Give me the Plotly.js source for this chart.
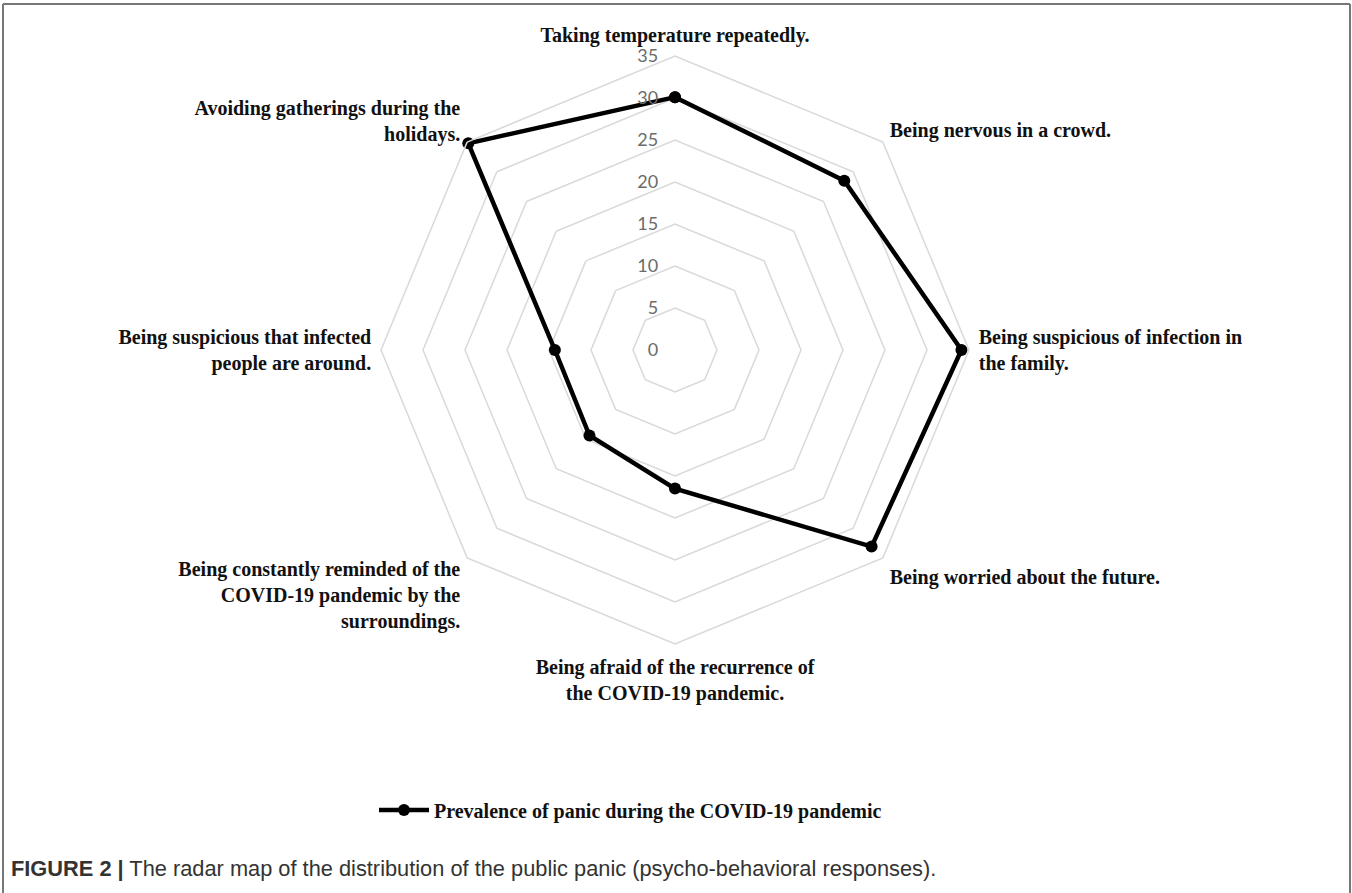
<!DOCTYPE html>
<html>
<head>
<meta charset="utf-8">
<script src="https://cdn.plot.ly/plotly-3.0.1.min.js"></script>
<style>
  html, body { margin: 0; padding: 0; background: #fff; }
  #chart { width: 1352px; height: 893px; }
</style>
</head>
<body>
<div id="chart"></div>
<script>
const categories = [
  "Taking temperature repeatedly.",
  "Being nervous in a crowd.",
  "Being suspicious of infection in the family.",
  "Being worried about the future.",
  "Being afraid of the recurrence of the COVID-19 pandemic.",
  "Being constantly reminded of the COVID-19 pandemic by the surroundings.",
  "Being suspicious that infected people are around.",
  "Avoiding gatherings during the holidays."
];
const tickLabels = [
  "Taking temperature repeatedly.",
  "Being nervous in a crowd.",
  "Being suspicious of infection in<br>the family.",
  "Being worried about the future.",
  "Being afraid of the recurrence of<br>the COVID-19 pandemic.",
  "Being constantly reminded of the<br>COVID-19 pandemic by the<br>surroundings.",
  "Being suspicious that infected<br>people are around.",
  "Avoiding gatherings during the<br>holidays."
];
const values = [30.1, 28.5, 34.1, 33.1, 16.5, 14.4, 14.3, 34.8];
const radialTicks = [0, 5, 10, 15, 20, 25, 30, 35];
const seriesName = "Prevalence of panic during the COVID-19 pandemic";
const caption = "<b>FIGURE 2 |</b> The radar map of the distribution of the public panic (psycho-behavioral responses).";

const W = 1352, H = 893;
const trace = {
  type: "scatterpolar",
  r: values.concat([values[0]]),
  theta: categories.concat([categories[0]]),
  mode: "lines+markers",
  name: seriesName,
  line: { color: "#000", width: 4.5 },
  marker: { color: "#000", size: 12 },
  showlegend: true,
  cliponaxis: false
};

const serif = "'Liberation Serif', 'Times New Roman', serif";

const layout = {
  width: W, height: H,
  margin: { l: 0, r: 0, t: 0, b: 0 },
  paper_bgcolor: "#fff",
  showlegend: true,
  polar: {
    domain: { x: [381 / W, 969 / W], y: [1 - 644 / H, 1 - 56 / H] },
    gridshape: "linear",
    bgcolor: "rgba(0,0,0,0)",
    radialaxis: {
      range: [0, 35],
      tickvals: radialTicks,
      angle: 90,
      tickangle: 90,
      side: "counterclockwise",
      showline: false,
      showgrid: true,
      gridcolor: "#d9d9d9",
      gridwidth: 1.5,
      ticks: "outside",
      ticklen: 10,
      tickcolor: "rgba(0,0,0,0)",
      tickfont: { family: "Lato, 'Noto Sans', sans-serif", size: 18, color: "#6b6b6b" }
    },
    angularaxis: {
      type: "category",
      categoryarray: categories,
      tickmode: "array",
      tickvals: categories,
      ticktext: tickLabels,
      direction: "clockwise",
      rotation: 90,
      showgrid: false,
      showline: true,
      linecolor: "#d9d9d9",
      linewidth: 1.5,
      ticks: "outside",
      ticklen: 5,
      tickcolor: "rgba(0,0,0,0)",
      tickfont: { family: serif, size: 20, color: "#111", weight: "bold" }
    }
  },
  legend: {
    orientation: "h",
    x: 374 / W, xanchor: "left",
    y: 1 - 810 / H, yanchor: "middle",
    font: { family: serif, size: 20, color: "#111", weight: "bold" },
    itemwidth: 50,
    bgcolor: "rgba(0,0,0,0)"
  },
  shapes: [
    { type: "line", xref: "paper", yref: "paper", x0: 3 / W, x1: 3 / W, y0: 0, y1: 1 - 4 / H, line: { color: "#777", width: 2 } },
    { type: "line", xref: "paper", yref: "paper", x0: 3 / W, x1: 1350 / W, y0: 1 - 4 / H, y1: 1 - 4 / H, line: { color: "#777", width: 2 } },
    { type: "line", xref: "paper", yref: "paper", x0: 1350 / W, x1: 1350 / W, y0: 0, y1: 1 - 4 / H, line: { color: "#777", width: 2 } }
  ],
  annotations: [
    {
      text: caption,
      xref: "paper", yref: "paper",
      x: 9 / W, xanchor: "left",
      y: 1 - 868 / H, yanchor: "middle",
      showarrow: false,
      font: { family: "'Liberation Sans', Arial, sans-serif", size: 21.8, color: "#333" }
    }
  ]
};

Plotly.newPlot("chart", [trace], layout, { displayModeBar: false, staticPlot: true });
</script>
</body>
</html>
